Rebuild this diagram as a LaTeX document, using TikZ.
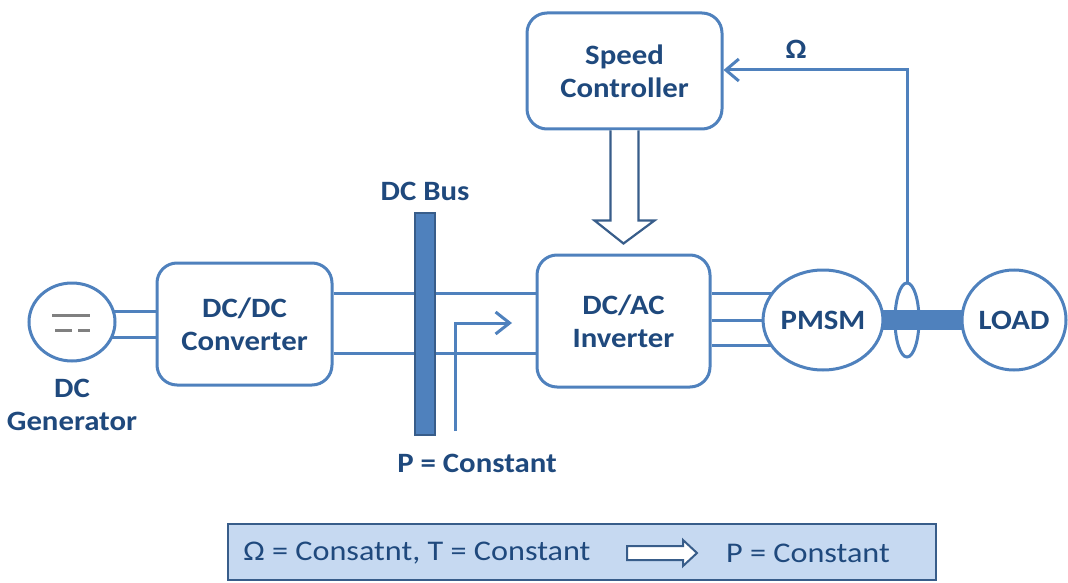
\documentclass[tikz,border=0pt]{standalone}
\usepackage{fontspec}
\setmainfont{Carlito}[FakeStretch=1.1]
\usetikzlibrary{arrows.meta,shapes.geometric,backgrounds,calc}
\definecolor{wire}{HTML}{4F81BD}
\definecolor{edge}{HTML}{385D8A}
\definecolor{ink}{HTML}{1F497D}
\definecolor{pale}{HTML}{C6D9F1}
\begin{document}
\begin{tikzpicture}[x=1pt,y=-1pt,
  boxfont/.style={font=\bfseries\fontsize{28}{33}\selectfont, text=ink},
  blk/.style={draw=wire, line width=3pt, rounded corners=20pt, fill=white,
    boxfont, align=center, inner sep=0pt},
  round/.style={ellipse, draw=wire, line width=3pt, fill=white, boxfont, inner sep=0pt},
  lbl/.style={boxfont, align=center, inner sep=0pt},
  wirel/.style={draw=wire, line width=3pt},
  hollow/.style={draw=edge, line width=2.2pt, fill=white, line join=miter},
  plain/.style={font=\fontsize{28.5}{33}\selectfont\addfontfeature{FakeStretch=1.13}, text=ink, inner sep=0pt},
]
\useasboundingbox (0,0) rectangle (1068,583);

% blocks
\node[blk, minimum width=175pt, minimum height=122pt] (dcdc) at (244.5,324) {DC/DC\\Converter};
\node[blk, minimum width=173pt, minimum height=132pt] (dcac) at (623.5,321) {DC/AC\\Inverter};
\node[blk, minimum width=195pt, minimum height=116pt] (speed) at (624.5,71) {Speed\\Controller};

% machines
\node[round, minimum width=86pt, minimum height=78pt] (gen) at (72,322) {};
\node[round, minimum width=110pt, minimum height=100pt] (pmsm) at (823,320) {PMSM};
\node[round, minimum width=104pt, minimum height=100pt] (load) at (1014,320) {LOAD};
\node[ellipse, draw=wire, line width=3pt, minimum width=24pt, minimum height=74pt, inner sep=0pt] (ring) at (907,320) {};

% DC source symbol
\draw[gray, line width=3pt] (52,315) -- (90,315) (55,330) -- (72,330) (78,330) -- (90,330);

% DC bus bar
\node[draw=edge, fill=wire, line width=1.5pt, minimum width=20pt, minimum height=222pt, inner sep=0pt] (bus) at (425,324) {};

% wiring, kept under the blocks
\begin{pgfonlayer}{background}
  \draw[wirel] (gen.center |- 0,311) -- (dcdc.west |- 0,311);
  \draw[wirel] (gen.center |- 0,337) -- (dcdc.west |- 0,337);
  \draw[wirel] (dcdc.east |- 0,293) -- (dcac.west |- 0,293);
  \draw[wirel] (dcdc.east |- 0,353) -- (dcac.west |- 0,353);
  \draw[wirel] (dcac.east |- 0,293) -- (pmsm.center |- 0,293);
  \draw[wirel] (dcac.east |- 0,320) -- (pmsm.center |- 0,320);
  \draw[wirel] (dcac.east |- 0,345) -- (pmsm.center |- 0,345);
  \draw[wire, line width=20pt] (pmsm.center) -- (load.center);
\end{pgfonlayer}

% speed feedback
\draw[wirel, -{Straight Barb[length=13pt, width=22pt]}] (ring.north) -- (ring.north |- 0,70) -- (speed.east |- 0,70);
\node[lbl] (omega) at (796,49) {Ω};

% power flow marker
\coordinate (pfoot) at (455,431);
\coordinate (ptip) at (512,323);
\draw[wirel, -{Straight Barb[length=14pt, width=22pt]}] (pfoot) -- (pfoot |- ptip) -- (ptip);

% control command: hollow block arrow
\draw[hollow] ($(speed.south)+(-14,0)$) -- ++(0,90) -- ++(-16,0) -- ($(dcac.north)+(0,-10)$)
  -- ($(speed.south)+(30,90)$) -- ++(-16,0) -- ($(speed.south)+(14,0)$);

% labels
\node[lbl] (genl) at (gen.south |- 0,405) {DC\\Generator};
\node[lbl] (busl) at (bus.north |- 0,191) {DC Bus};
\node[lbl] (pl) at (477,463) {P = Constant};

% summary
\node[draw=edge, fill=pale, line width=2.5pt, minimum width=708pt, minimum height=56pt, inner sep=0pt] (sum) at (582,552) {};
\node[plain] (s1) at (417,553) {Ω = Consatnt, T = Constant};
\node[plain] (s2) at (808,553) {P = Constant};
\draw[hollow, line width=2pt] (627,546) -- (683,546) -- (683,540) -- (697,553) -- (683,566) -- (683,560) -- (627,560) -- cycle;
\end{tikzpicture}
\end{document}
